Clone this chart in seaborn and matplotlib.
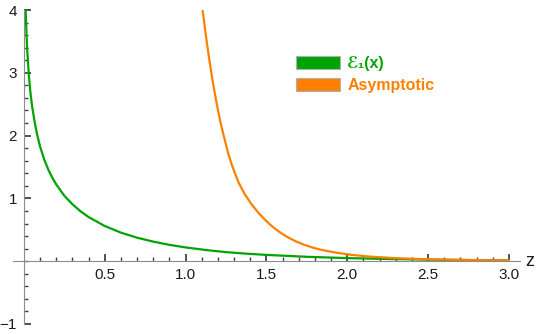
import numpy as np
import pandas as pd
import seaborn as sns
import matplotlib
matplotlib.use("Agg")
import matplotlib.pyplot as plt
from matplotlib.patches import Patch

# values
x_e1 = [0.0102, 0.015, 0.02, 0.03, 0.04, 0.05, 0.065, 0.08, 0.1, 0.125, 0.15, 0.175, 0.2,
        0.25, 0.3, 0.35, 0.4, 0.5, 0.6, 0.7, 0.8, 0.9, 1.0, 1.125, 1.25, 1.375, 1.5,
        1.75, 2.0, 2.25, 2.5, 2.75, 3.0]
y_e1 = [4.0, 3.64, 3.36, 2.96, 2.68, 2.47, 2.23, 2.03, 1.82, 1.62, 1.46, 1.33, 1.22,
        1.04, 0.906, 0.794, 0.702, 0.560, 0.454, 0.374, 0.311, 0.260, 0.219, 0.178, 0.144,
        0.120, 0.100, 0.070, 0.049, 0.035, 0.025, 0.018, 0.013]

x_asym = [1.105, 1.12, 1.135, 1.15, 1.165, 1.18, 1.195, 1.21, 1.222, 1.243, 1.264,
          1.285, 1.305, 1.326, 1.365, 1.408, 1.45, 1.49, 1.52, 1.552, 1.585, 1.625,
          1.675, 1.727, 1.78, 1.83, 1.934, 2.036, 2.14, 2.30, 2.5, 2.75, 3.0]
y_asym = [4.00, 3.69, 3.41, 3.15, 2.90, 2.68, 2.47, 2.28, 2.14, 1.92, 1.71,
          1.54, 1.40, 1.26, 1.07, 0.905, 0.771, 0.662, 0.589, 0.52, 0.457, 0.391,
          0.324, 0.267, 0.221, 0.185, 0.134, 0.098, 0.073, 0.048, 0.030, 0.0185, 0.0118]

labels = ["ℰ₁(x)", "Asymptotic"]
colors = ["#00A400", "#FF8000"]

df_e1 = pd.DataFrame({"z": x_e1, "value": y_e1})
df_asym = pd.DataFrame({"z": x_asym, "value": y_asym})

sns.set_style("ticks")
plt.rcParams["font.family"] = ["Liberation Sans", "DejaVu Sans"]

fig = plt.figure(figsize=(5.42, 3.34), dpi=100)
ax = fig.add_axes([0.024, 0.030, 0.935, 0.940])

sns.lineplot(data=df_e1, x="z", y="value", color=colors[0], lw=1.6, ax=ax, sort=False)
sns.lineplot(data=df_asym, x="z", y="value", color=colors[1], lw=1.6, ax=ax, sort=False)

ax.set_xlim(-0.068, 3.067)
ax.set_ylim(-1, 4)
ax.set_xlabel("")
ax.set_ylabel("")

# Mathematica style axes through the origin
for side in ["top", "right"]:
    ax.spines[side].set_visible(False)
ax.spines["left"].set_position(("data", 0))
ax.spines["bottom"].set_position(("data", 0))
ax.spines["left"].set_color("#8c8c8c")
ax.spines["bottom"].set_color("#8c8c8c")

ax.set_xticks([0.5, 1.0, 1.5, 2.0, 2.5, 3.0])
ax.set_xticklabels(["0.5", "1.0", "1.5", "2.0", "2.5", "3.0"])
ax.set_xticks(np.arange(0.1, 3.01, 0.1), minor=True)
ax.set_yticks([-1, 1, 2, 3, 4])
ax.set_yticklabels(["\u22121", "1", "2", "3", "4"])
ax.set_yticks(np.arange(-1, 4.01, 0.2), minor=True)

ax.tick_params(axis="both", which="both", bottom=True, left=True, top=False, right=False,
               direction="in")
ax.tick_params(axis="both", which="major", length=5, width=1.2,
               color="#333333", labelsize=11, labelcolor="#1a1a1a", pad=5)
ax.tick_params(axis="both", which="minor", length=3, width=1.0, color="#444444")

ax.text(3.13, 0, "z", fontsize=13, ha="center", va="center", color="#1a1a1a",
        transform=ax.transData, clip_on=False)

handles = [Patch(facecolor=c, edgecolor="#b0b0b0", lw=0.8) for c in colors]
leg = ax.legend(handles, labels, loc="upper left", bbox_to_anchor=(0.525, 0.866),
                bbox_transform=fig.transFigure, frameon=False, prop={"weight": "bold", "size": 11.5},
                handlelength=2.75, handleheight=0.88, handletextpad=0.48, labelspacing=0.45,
                borderpad=0.2)
for t, c in zip(leg.get_texts(), colors):
    t.set_color(c)

fig.savefig("out.png", dpi=100)
